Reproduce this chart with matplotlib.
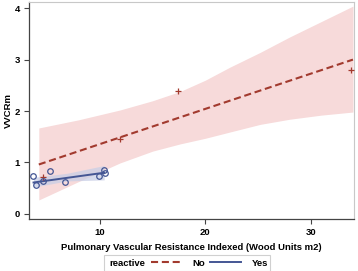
import matplotlib
matplotlib.use("Agg")
import matplotlib.pyplot as plt
from matplotlib.lines import Line2D
from matplotlib.patches import Rectangle

plt.rcParams['font.family'] = ['Liberation Sans', 'DejaVu Sans']

# reactive = No  (red '+')
no_x = [4.57, 11.9, 17.4, 33.8]
no_y = [0.72, 1.45, 2.39, 2.80]
# fitted line end points and confidence band
no_fit_x = [4.2, 34.0]
no_fit_y = [0.96, 3.00]
no_band_x = [4.2, 8, 11.9, 15, 17.6, 20, 22.3, 25.2, 28, 31, 34]
no_band_lo = [0.27, 0.63, 0.99, 1.22, 1.36, 1.47, 1.59, 1.74, 1.84, 1.92, 1.98]
no_band_hi = [1.67, 1.83, 2.02, 2.20, 2.38, 2.60, 2.85, 3.14, 3.44, 3.74, 4.04]

# reactive = Yes (blue 'o')
yes_x = [3.68, 3.96, 4.63, 5.26, 6.71, 9.91, 10.4, 10.44]
yes_y = [0.74, 0.56, 0.63, 0.84, 0.62, 0.74, 0.86, 0.80]
yes_fit_x = [3.7, 10.4]
yes_fit_y = [0.61, 0.80]
yes_band_x = [3.7, 6.9, 10.4]
yes_band_lo = [0.52, 0.64, 0.66]
yes_band_hi = [0.71, 0.79, 0.94]

x_ticks = [10, 20, 30]
y_ticks = [0, 1, 2, 3, 4]

red = '#a23a2e'
blue = '#445694'
fs = 6.8

fig = plt.figure(figsize=(3.58, 2.71), dpi=100)
ax = fig.add_axes([29 / 358, 1 - 219 / 271, 325 / 358, 217 / 271])

ax.fill_between(no_band_x, no_band_lo, no_band_hi, color='#f7dada', lw=0, zorder=1)
ax.fill_between(yes_band_x, yes_band_lo, yes_band_hi, color='#c9cfe6', alpha=0.75, lw=0, zorder=2)

ax.plot(no_fit_x, no_fit_y, color=red, lw=1.5, dashes=(3.4, 1.8), zorder=3)
ax.plot(yes_fit_x, yes_fit_y, color=blue, lw=1.4, zorder=3)
ax.plot(no_x, no_y, '+', color=red, ms=5, mew=0.9, zorder=4)
ax.plot(yes_x, yes_y, 'o', mfc='none', mec=blue, ms=4, mew=0.9, zorder=4)

ax.set_xlim(3.27, 34.1)
ax.set_ylim(-0.1, 4.12)
ax.set_xticks(x_ticks)
ax.set_yticks(y_ticks)
ax.tick_params(labelsize=fs, length=3.5, width=0.8, color='#444444', pad=3)
for lab in ax.get_xticklabels() + ax.get_yticklabels():
    lab.set_fontweight('bold')
for side in ['left', 'bottom']:
    ax.spines[side].set_color('#444444')
    ax.spines[side].set_linewidth(0.9)
for side in ['top', 'right']:
    ax.spines[side].set_color('#c8c8c8')
    ax.spines[side].set_linewidth(0.8)

ax.set_xlabel('Pulmonary Vascular Resistance Indexed (Wood Units m2)', fontsize=fs, fontweight='bold')
ax.xaxis.set_label_coords(0.5, (219 - 247) / 217)
ax.xaxis.label.set_va('center')
ax.set_ylabel('VVCRm', fontsize=fs, fontweight='bold')
ax.yaxis.set_label_coords((8 - 29) / 325, 0.5)
ax.yaxis.label.set_va('center')

# legend strip
fig.patches.append(Rectangle((104 / 358, 0.5 / 271), 166 / 358, 16 / 271,
                             transform=fig.transFigure, fill=False,
                             edgecolor='#d0d0d0', lw=0.8))
fig.text(109 / 358, 8 / 271, 'reactive', fontsize=fs, fontweight='bold',
         va='center', ha='left')
handles = [Line2D([], [], color=red, lw=1.5, dashes=(3.4, 1.8)),
           Line2D([], [], color=blue, lw=1.4)]
fig.legend(handles, ['No', 'Yes'], ncol=2, frameon=False,
           prop={'size': fs, 'weight': 'bold'},
           loc='center left', bbox_to_anchor=(151 / 358, 8 / 271),
           handlelength=3.3, handletextpad=1.1, columnspacing=0.5,
           borderpad=0, borderaxespad=0)

fig.savefig('out.png', dpi=100)
